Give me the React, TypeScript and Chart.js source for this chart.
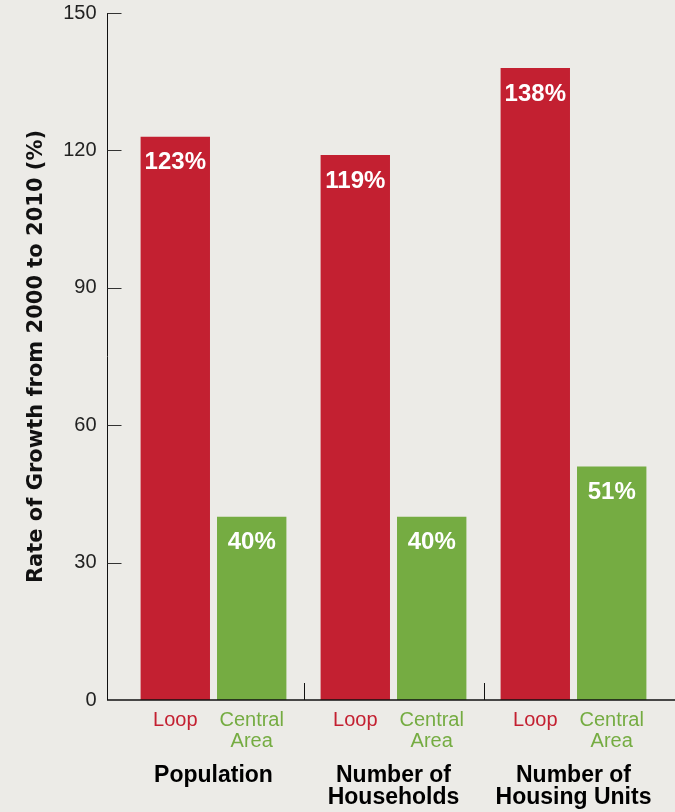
import React, { useEffect, useRef } from "react";
import { Chart, registerables } from "chart.js";

Chart.register(...registerables);

const groupLabels: (string | string[])[] = [
  "Population",
  ["Number of", "Households"],
  ["Number of", "Housing Units"],
];
const seriesNames: string[][] = [["Loop"], ["Central", "Area"]];
const loopValues = [123, 119, 138];
const centralValues = [40, 40, 51];
const yMin = 0;
const yMax = 150;
const yStep = 30;
const yTitle = "Rate of Growth from 2000 to 2010 (%)";

const BG = "#ecebe7";
const RED = "#c32031";
const GREEN = "#75ac42";
const FONT = "'Liberation Sans', Arial, Helvetica, sans-serif";

const overlayPlugin = {
  id: "overlay",
  beforeDraw(chart: any) {
    const { ctx, width, height } = chart;
    ctx.save();
    ctx.fillStyle = BG;
    ctx.fillRect(0, 0, width, height);
    ctx.restore();
  },
  afterDatasetsDraw(chart: any) {
    const { ctx, chartArea, scales } = chart;
    const x = scales.x;
    const y = scales.y;
    const axisX = Math.round(chartArea.left - 17) + 0.5;
    const zeroY = y.getPixelForValue(0);
    ctx.save();
    // y axis line
    ctx.strokeStyle = "#111";
    ctx.lineWidth = 1;
    ctx.beginPath();
    ctx.moveTo(axisX, y.getPixelForValue(yMax));
    ctx.lineTo(axisX, zeroY);
    ctx.stroke();
    // y ticks (inward)
    ctx.strokeStyle = "#333";
    y.ticks.forEach((t: any) => {
      if (t.value === 0) return;
      const py = Math.round(y.getPixelForValue(t.value)) + 0.5;
      ctx.beginPath();
      ctx.moveTo(axisX, py);
      ctx.lineTo(axisX + 14, py);
      ctx.stroke();
    });
    // x axis line
    ctx.strokeStyle = "#111";
    ctx.lineWidth = 1.6;
    ctx.beginPath();
    ctx.moveTo(axisX - 0.5, zeroY);
    ctx.lineTo(chart.width, zeroY);
    ctx.stroke();
    // group separators
    ctx.lineWidth = 1;
    for (let i = 0; i < groupLabels.length - 1; i++) {
      const sx = Math.round((x.getPixelForValue(i) + x.getPixelForValue(i + 1)) / 2) + 0.5;
      ctx.beginPath();
      ctx.moveTo(sx, zeroY - 17);
      ctx.lineTo(sx, zeroY);
      ctx.stroke();
    }
    // value labels inside bars and series labels below
    chart.data.datasets.forEach((ds: any, di: number) => {
      const meta = chart.getDatasetMeta(di);
      meta.data.forEach((el: any, i: number) => {
        ctx.fillStyle = "#ffffff";
        ctx.font = `bold 24px ${FONT}`;
        ctx.textAlign = "center";
        ctx.textBaseline = "middle";
        ctx.fillText(`${ds.data[i]}%`, el.x, el.y + 26);
        ctx.fillStyle = ds.backgroundColor;
        ctx.font = `20px ${FONT}`;
        seriesNames[di].forEach((line, li) => {
          ctx.fillText(line, el.x, zeroY + 20 + li * 21);
        });
      });
    });
    ctx.restore();
  },
};

export default function App() {
  const ref = useRef<HTMLCanvasElement | null>(null);
  useEffect(() => {
    if (!ref.current) return;
    const chart = new Chart(ref.current, {
      type: "bar",
      data: {
        labels: groupLabels,
        datasets: [
          {
            label: "Loop",
            data: loopValues,
            backgroundColor: RED,
            barPercentage: 0.908,
            categoryPercentage: 0.849,
          },
          {
            label: "Central Area",
            data: centralValues,
            backgroundColor: GREEN,
            barPercentage: 0.908,
            categoryPercentage: 0.849,
          },
        ],
      },
      options: {
        responsive: false,
        animation: false,
        layout: { padding: { top: 13, right: 11.5, left: 0, bottom: 0 } },
        plugins: {
          legend: { display: false },
          tooltip: { enabled: false },
        },
        scales: {
          x: {
            type: "category",
            grid: { display: false, drawTicks: false },
            border: { display: false },
            ticks: {
              color: "#000",
              font: { family: FONT, size: 23, weight: "bold", lineHeight: 0.95 },
              padding: 65,
              maxRotation: 0,
              autoSkip: false,
            },
            afterFit: (s: any) => {
              s.height = 112;
              s.paddingLeft = 0;
              s.paddingRight = 0;
              s.paddingTop = 0;
              s.paddingBottom = 0;
            },
          },
          y: {
            min: yMin,
            max: yMax,
            grid: { display: false, drawTicks: false },
            border: { display: false },
            ticks: {
              stepSize: yStep,
              color: "#222",
              font: { family: FONT, size: 20 },
              padding: 27,
            },
            title: {
              display: true,
              text: yTitle,
              color: "#111",
              font: { family: "'DejaVu Sans', sans-serif", size: 21, weight: "bold" },
              padding: { top: 24, bottom: 0 },
            },
            afterFit: (s: any) => {
              s.width = 123.5;
              s.paddingLeft = 0;
              s.paddingRight = 0;
              s.paddingTop = 0;
              s.paddingBottom = 0;
            },
          },
        },
      },
      plugins: [overlayPlugin],
    });
    return () => chart.destroy();
  }, []);
  return (
    <div style={{ position: "fixed", left: 0, top: 0, width: 675, height: 812, background: BG }}>
      <canvas ref={ref} width={675} height={812} style={{ display: "block" }} />
    </div>
  );
}
